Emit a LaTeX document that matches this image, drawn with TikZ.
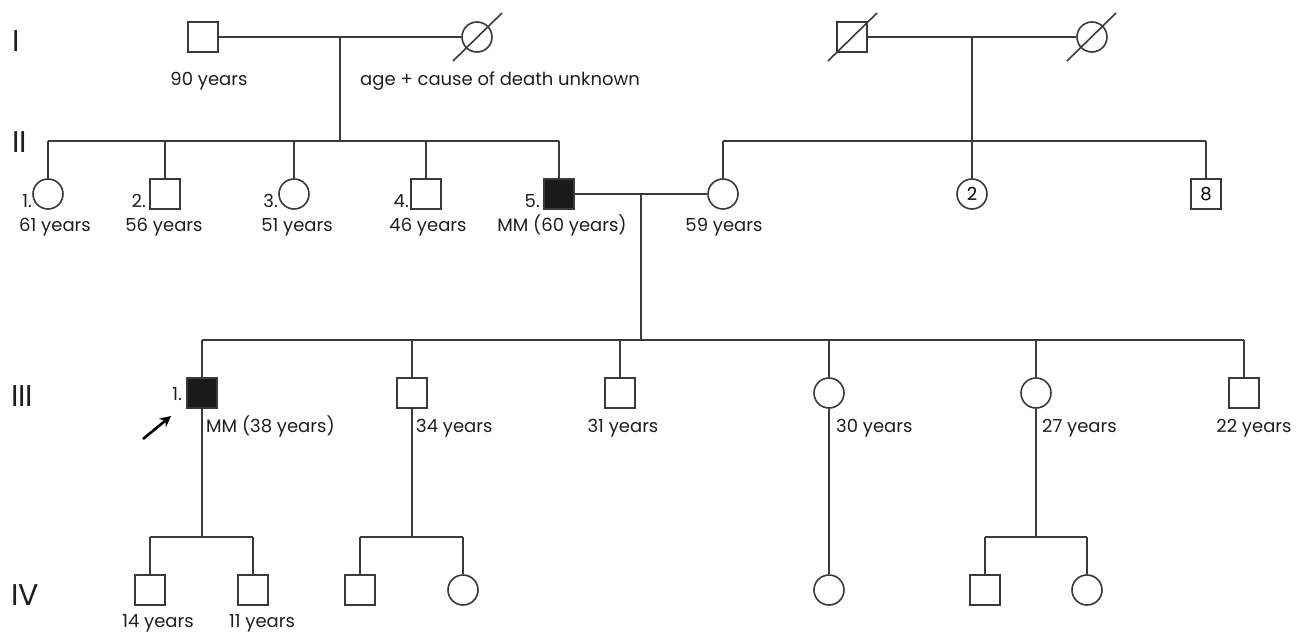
\documentclass[tikz,border=0pt]{standalone}
\usepackage{fontspec}
\setmainfont{Poppins}
\usetikzlibrary{arrows.meta}
\definecolor{lc}{HTML}{3A3A3A}
\definecolor{affc}{HTML}{1A1A1A}
\definecolor{tc}{HTML}{1E1E1E}
\begin{document}
\begin{tikzpicture}[x=1pt,y=-1pt,
  line/.style={draw=lc, line width=1.6pt},
  male/.style={rectangle, draw=lc, line width=1.6pt, fill=white, minimum size=30pt, inner sep=0pt, font=\fontsize{18}{21}\selectfont},
  female/.style={circle, draw=lc, line width=1.6pt, fill=white, minimum size=30pt, inner sep=0pt, font=\fontsize{18}{21}\selectfont},
  aff/.style={fill=affc},
  lab/.style={font=\fontsize{18}{21}\selectfont, text=tc, inner sep=0pt},
  gen/.style={font=\fontsize{30}{34}\selectfont, text=tc, inner sep=0pt, anchor=base west},
  arr/.style={draw=black, line width=2.6pt, -{Stealth[length=11pt,width=11pt]}}]
\useasboundingbox (0,0) rectangle (1302,634);
% generation labels
\node[gen] (gI) at (12,52) {I};
\node[gen] (gII) at (12,152) {II};
\node[gen] (gIII) at (11,406) {III};
\node[gen] (gIV) at (11,605) {IV};
% generation I
\node[male] (i1) at (203,37) {};
\node[female] (i2) at (477,37) {};
\node[male] (i3) at (852,37) {};
\node[female] (i4) at (1092,37) {};
\coordinate (m1) at (340,37);
\coordinate (m2) at (972,37);
\draw[line] (i1.east) -- (i2.west);
\draw[line] (i3.east) -- (i4.west);
\draw[line] (i2.center) ++(-24,24) -- ++(49,-48);
\draw[line] (i3.center) ++(-24,24) -- ++(49,-48);
\draw[line] (i4.center) ++(-25,24) -- ++(49,-48);
\node[lab, anchor=base] (l90) at (209,85) {90 years};
\node[lab, anchor=base west] (lunk) at (360,85) {age + cause of death unknown};
% generation II
\coordinate (s1) at (340,141);
\coordinate (s1a) at (48,141);
\coordinate (s1b) at (559,141);
\node[female] (ii1) at (48,194) {};
\node[male] (ii2) at (165,194) {};
\node[female] (ii3) at (294,194) {};
\node[male] (ii4) at (426,194) {};
\node[male, aff] (ii5) at (559,194) {};
\node[female] (ii6) at (723,194) {};
\node[female] (ii7) at (972,194) {2};
\node[male] (ii8) at (1206,194) {8};
\coordinate (s2a) at (723,141);
\coordinate (s2b) at (1206,141);
\draw[line] (m1) -- (s1);
\draw[line] (s1a) -- (s1b);
\draw[line] (s1a) -- (ii1.north);
\draw[line] (ii2.north |- s1) -- (ii2.north);
\draw[line] (ii3.north |- s1) -- (ii3.north);
\draw[line] (ii4.north |- s1) -- (ii4.north);
\draw[line] (s1b) -- (ii5.north);
\draw[line] (s2a) -- (s2b);
\draw[line] (s2a) -- (ii6.north);
\draw[line] (s2b) -- (ii8.north);
\draw[line] (m2) -- (ii7.north);
\draw[line] (ii5.east) -- (ii6.west);
\node[lab, anchor=base east] (n1) at (32,207) {1.};
\node[lab, anchor=base east] (n2) at (146,207) {2.};
\node[lab, anchor=base east] (n3) at (278,207) {3.};
\node[lab, anchor=base east] (n4) at (409,207) {4.};
\node[lab, anchor=base east] (n5) at (540,207) {5.};
\node[lab, anchor=base] (a1) at (55,231) {61 years};
\node[lab, anchor=base] (a2) at (164,231) {56 years};
\node[lab, anchor=base] (a3) at (297,231) {51 years};
\node[lab, anchor=base] (a4) at (428,231) {46 years};
\node[lab, anchor=base] (a5) at (562,231) {MM (60 years)};
\node[lab, anchor=base] (a6) at (724,231) {59 years};
% generation III
\coordinate (m3) at (641,194);
\coordinate (s3) at (641,340);
\coordinate (s3a) at (202,340);
\coordinate (s3b) at (1244,340);
\node[male, aff] (iii1) at (202,393) {};
\node[male] (iii2) at (412,393) {};
\node[male] (iii3) at (620,393) {};
\node[female] (iii4) at (829,393) {};
\node[female] (iii5) at (1036,393) {};
\node[male] (iii6) at (1244,393) {};
\draw[line] (m3) -- (s3);
\draw[line] (s3a) -- (s3b);
\draw[line] (s3a) -- (iii1.north);
\draw[line] (iii2.north |- s3) -- (iii2.north);
\draw[line] (iii3.north |- s3) -- (iii3.north);
\draw[line] (iii4.north |- s3) -- (iii4.north);
\draw[line] (iii5.north |- s3) -- (iii5.north);
\draw[line] (s3b) -- (iii6.north);
\node[lab, anchor=base east] (n31) at (182,400) {1.};
\node[lab, anchor=base west] (b1) at (206,432) {MM (38 years)};
\node[lab, anchor=base west] (b2) at (416,432) {34 years};
\node[lab, anchor=base] (b3) at (623,432) {31 years};
\node[lab, anchor=base west] (b4) at (836,432) {30 years};
\node[lab, anchor=base west] (b5) at (1042,432) {27 years};
\node[lab, anchor=base] (b6) at (1254,432) {22 years};
\coordinate (pa) at (143,439);
\coordinate (pb) at (171,416);
\draw[arr] (pa) -- (pb);
% generation IV
\coordinate (c1) at (202,537);
\coordinate (c2) at (412,537);
\coordinate (c3) at (1036,537);
\node[male] (iv1) at (150,590) {};
\node[male] (iv2) at (253,590) {};
\node[male] (iv3) at (360,590) {};
\node[female] (iv4) at (463,590) {};
\node[female] (iv5) at (829,590) {};
\node[male] (iv6) at (985,590) {};
\node[female] (iv7) at (1087,590) {};
\draw[line] (iii1.south) -- (c1);
\draw[line] (iii2.south) -- (c2);
\draw[line] (iii5.south) -- (c3);
\draw[line] (iii4.south) -- (iv5.north);
\draw[line] (iv1.north |- c1) -- (iv2.north |- c1);
\draw[line] (iv3.north |- c2) -- (iv4.north |- c2);
\draw[line] (iv6.north |- c3) -- (iv7.north |- c3);
\draw[line] (iv1.north |- c1) -- (iv1.north);
\draw[line] (iv2.north |- c1) -- (iv2.north);
\draw[line] (iv3.north |- c2) -- (iv3.north);
\draw[line] (iv4.north |- c2) -- (iv4.north);
\draw[line] (iv6.north |- c3) -- (iv6.north);
\draw[line] (iv7.north |- c3) -- (iv7.north);
\node[lab, anchor=base] (d1) at (158,627) {14 years};
\node[lab, anchor=base] (d2) at (262,627) {11 years};
\end{tikzpicture}
\end{document}
